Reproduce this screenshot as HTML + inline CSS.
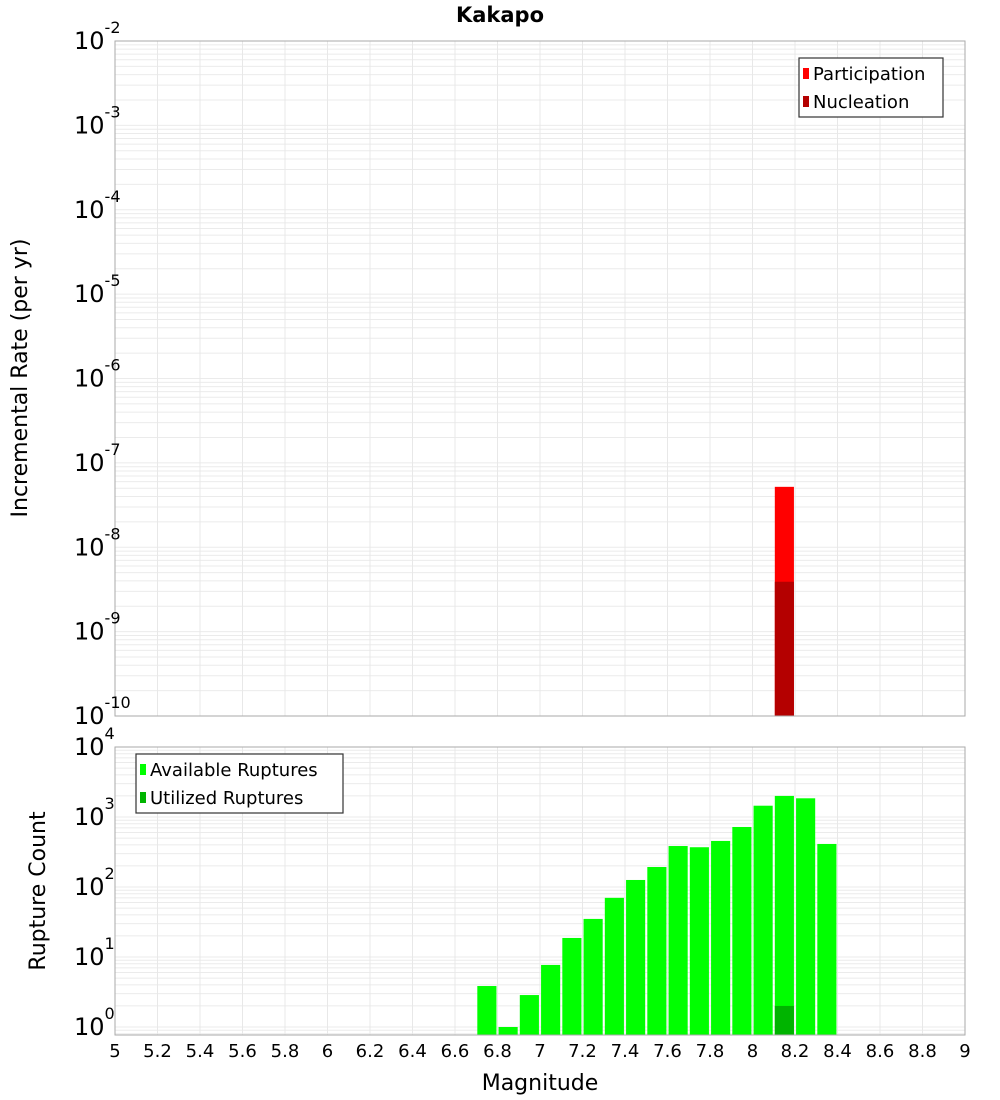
<!DOCTYPE html>
<html><head><meta charset="utf-8"><style>
body{margin:0;background:#fff;}
svg{display:block;font-family:"DejaVu Sans","Liberation Sans",sans-serif;}
</style></head><body>
<svg id="chart" width="1000" height="1100" xmlns="http://www.w3.org/2000/svg">
<text x="500" y="22" text-anchor="middle" font-size="21" font-weight="bold">Kakapo</text>
<text transform="translate(27,378) rotate(-90)" text-anchor="middle" font-size="22">Incremental Rate (per yr)</text>
<text transform="translate(45,891) rotate(-90)" text-anchor="middle" font-size="22">Rupture Count</text>
<text x="540" y="1090" text-anchor="middle" font-size="22">Magnitude</text>
<g id="topg"></g><g id="botg"></g>
</svg>
<script>
const xTicks=[5,5.2,5.4,5.6,5.8,6,6.2,6.4,6.6,6.8,7,7.2,7.4,7.6,7.8,8,8.2,8.4,8.6,8.8,9];
const topExps=[-2,-3,-4,-5,-6,-7,-8,-9,-10];
const botExps=[4,3,2,1,0];
const rateMags=[8.15];
const participation=[5.2e-8];
const nucleation=[3.9e-9];
const countMags=[6.75,6.85,6.95,7.05,7.15,7.25,7.35,7.45,7.55,7.65,7.75,7.85,7.95,8.05,8.15,8.25,8.35];
const available=[3.85,1,2.86,7.7,18.7,35,70,126,193,385,370,455,720,1450,2000,1850,412];
const utilized=[0,0,0,0,0,0,0,0,0,0,0,0,0,0,2,0,0];

const NS="http://www.w3.org/2000/svg";
const X0=115,X1=965;
const xs=m=>X0+(m-5)/4*(X1-X0);
const T0=41,T1=716,ty=v=>T0+(-2-Math.log10(v))*(T1-T0)/8;
const B0=747,B1=1035,by=v=>1027-Math.log10(v)*70;
function el(p,tag,a){const e=document.createElementNS(NS,tag);for(const k in a)e.setAttribute(k,a[k]);p.appendChild(e);return e;}
const gTop=document.getElementById('topg'),gBot=document.getElementById('botg');

function grid(g,y0,y1,yf,eLo,eHi){
  for(let e=eLo;e<eHi;e++)for(let k=1;k<10;k++){const y=yf(k*Math.pow(10,e));if(y<y0||y>y1)continue;
    const l=el(g,'line',{x1:X0,x2:X1,y1:y,y2:y,stroke:'#ebebeb','stroke-width':1});
    
    }
  xTicks.forEach(m=>{const l=el(g,'line',{x1:xs(m),x2:xs(m),y1:y0,y2:y1,stroke:'#e8e8e8','stroke-width':1});
    
    });
}
grid(gTop,T0,T1,ty,-10,-2);
grid(gBot,B0,B1,by,-1,5);

rateMags.forEach((m,i)=>{
  const x=xs(m-0.045),w=xs(m+0.045)-x;
  const p=el(gTop,'rect',{x:x,y:ty(participation[i]),width:w,height:T1-ty(participation[i]),fill:'#ff0000'});
  
  
  const n=el(gTop,'rect',{x:x,y:ty(nucleation[i]),width:w,height:T1-ty(nucleation[i]),fill:'#b40000'});
  
  
});
countMags.forEach((m,i)=>{
  const x=xs(m-0.045),w=xs(m+0.045)-x;
  const yA=Math.max(B0,by(available[i]));
  const a=el(gBot,'rect',{x:x,y:yA,width:w,height:B1-yA,fill:'#00ff00'});
  
  
  if(utilized[i]>0){const yU=by(utilized[i]);
    const u=el(gBot,'rect',{x:x,y:yU,width:w,height:B1-yU,fill:'#00b400'});
    
    }
});
const f1=el(gTop,'rect',{x:X0,y:T0,width:X1-X0,height:T1-T0,fill:'none',stroke:'#aaa','stroke-width':1});


const f2=el(gBot,'rect',{x:X0,y:B0,width:X1-X0,height:B1-B0,fill:'none',stroke:'#aaa','stroke-width':1});



function ylab(g,y,e,name){
  const t=el(g,'text',{x:74,y:y+8,'text-anchor':'start','font-size':24});
  
  
  t.textContent='10';
  const s=el(t,'tspan',{dy:-16,'font-size':16});s.textContent=String(e);
}
topExps.forEach(e=>ylab(gTop,ty(Math.pow(10,e)),e,'top-y-tick-label'));
botExps.forEach(e=>ylab(gBot,by(Math.pow(10,e)),e,'bottom-y-tick-label'));
xTicks.forEach(m=>{const t=el(gBot,'text',{x:xs(m),y:1057,'text-anchor':'middle','font-size':18});
  
  
  t.textContent=String(m);});

function legend(g,x,y,w,items,name){
  const gg=el(g,'g',{});
  
  
  el(gg,'rect',{x:x,y:y,width:w,height:59,fill:'#fff',stroke:'#333','stroke-width':1.2});
  items.forEach((it,i)=>{
    el(gg,'rect',{x:x+4,y:y+10+i*28,width:6,height:11,fill:it[1]});
    const t=el(gg,'text',{x:x+14,y:y+22+i*28,'font-size':18});
    
    
    t.textContent=it[0];});
}
legend(gTop,799,58,144,[['Participation','#ff0000'],['Nucleation','#b40000']],'top-legend');
legend(gBot,136,754,207,[['Available Ruptures','#00ff00'],['Utilized Ruptures','#00b400']],'bottom-legend');
</script>
</body></html>
